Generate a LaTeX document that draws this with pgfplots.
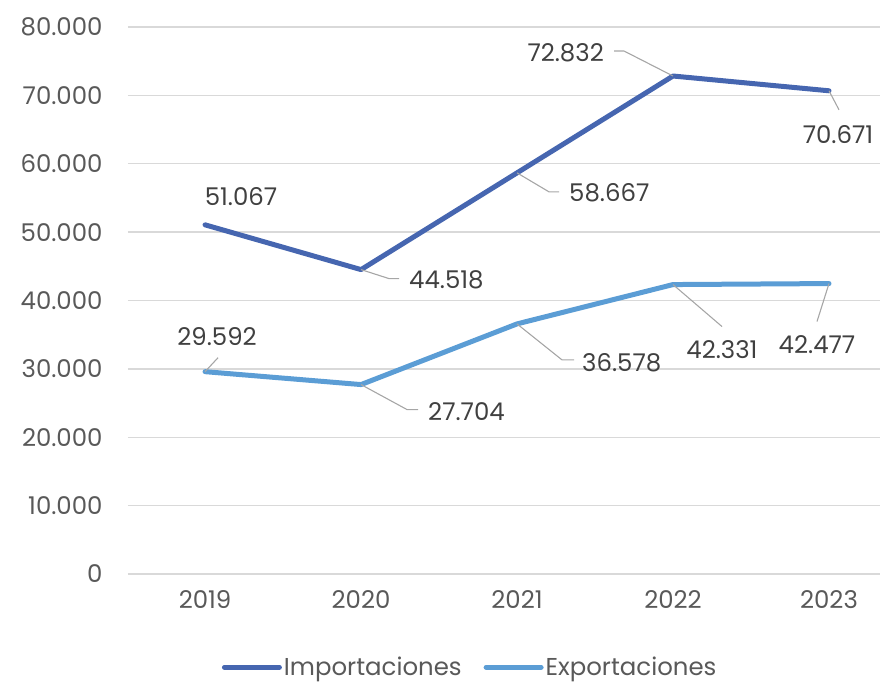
\documentclass[border=0pt]{standalone}
\usepackage{fontspec}
\setmainfont{Poppins}
\usepackage{pgfplots}
\pgfplotsset{compat=1.18}
\definecolor{impc}{RGB}{70,102,176}
\definecolor{expc}{RGB}{91,157,213}
\definecolor{gridc}{RGB}{217,217,217}
\definecolor{tickc}{RGB}{89,89,89}
\definecolor{labc}{RGB}{64,64,64}
\definecolor{leadc}{RGB}{166,166,166}
\begin{document}
\begin{tikzpicture}
\useasboundingbox (-128bp,-109bp) rectangle (756bp,574bp);
\begin{axis}[
  scale only axis,
  width=752bp, height=547bp,
  xmin=-0.494, xmax=4.327,
  ymin=0, ymax=80000,
  xtick={0,1,2,3,4},
  xticklabels={2019,2020,2021,2022,2023},
  ytick={0,10000,...,80000},
  axis line style={draw=none},
  major tick length=0pt,
  ymajorgrids,
  grid style={gridc, line width=1.3bp},
  font=\fontsize{24.5}{28}\selectfont,
  tick label style={text=tickc},
  y tick label style={anchor=east, xshift=-22bp},
  x tick label style={anchor=center, yshift=-26bp},
  /pgf/number format/.cd, 1000 sep={.}, assume math mode=true,
  /pgfplots/.cd,
  scaled y ticks=false,
  legend columns=2,
  legend style={draw=none, fill=none, at={(0.455,-0.1705)}, anchor=center,
    font=\fontsize{24.5}{28}\selectfont, text=tickc,
    /tikz/every even column/.append style={column sep=20bp},
    nodes={inner sep=2bp}},
  legend image code/.code={\draw[#1, line width=5bp, line cap=round] (0bp,0bp) -- (55bp,0bp);},
]
\addplot[impc, line width=5bp, line cap=round, line join=round] coordinates {
  (0,51067) (1,44518) (2,58667) (3,72832) (4,70671)};
\addlegendentry{Importaciones}
\addplot[expc, line width=5bp, line cap=round, line join=round] coordinates {
  (0,29592) (1,27704) (2,36578) (3,42331) (4,42477)};
\addlegendentry{Exportaciones}

\begin{scope}[leadc, line width=1.1bp]
\draw (axis cs:1,44518) -- ++(28bp,-9bp) -- ++(10bp,0bp);
\draw (axis cs:2,58667) -- ++(32bp,-19bp) -- ++(10bp,0bp);
\draw (axis cs:3,72832) -- ++(-49bp,25bp) -- ++(-10bp,0bp);
\draw (axis cs:4,70671) -- ++(10bp,-19bp);
\draw (axis cs:0,29592) -- ++(13bp,14bp);
\draw (axis cs:1,27704) -- ++(46bp,-25bp) -- ++(11bp,0bp);
\draw (axis cs:2,36578) -- ++(45bp,-36bp) -- ++(12bp,0bp);
\draw (axis cs:3,42331) -- ++(49bp,-42bp);
\draw (axis cs:4,42477) -- ++(-12bp,-38bp);
\end{scope}
\begin{scope}[every node/.style={text=labc, inner sep=0pt, font=\fontsize{24.5}{28}\selectfont}]
\node[anchor=center, xshift=36bp, yshift=28bp] at (axis cs:0,51067) {51.067};
\node[anchor=west, xshift=48bp, yshift=-10bp] at (axis cs:1,44518) {44.518};
\node[anchor=west, xshift=52bp, yshift=-20bp] at (axis cs:2,58667) {58.667};
\node[anchor=east, xshift=-69bp, yshift=23bp] at (axis cs:3,72832) {72.832};
\node[anchor=center, xshift=9bp, yshift=-44bp] at (axis cs:4,70671) {70.671};
\node[anchor=center, xshift=12bp, yshift=35bp] at (axis cs:0,29592) {29.592};
\node[anchor=west, xshift=67bp, yshift=-27bp] at (axis cs:1,27704) {27.704};
\node[anchor=west, xshift=65bp, yshift=-39bp] at (axis cs:2,36578) {36.578};
\node[anchor=center, xshift=49bp, yshift=-65bp] at (axis cs:3,42331) {42.331};
\node[anchor=center, xshift=-12bp, yshift=-61bp] at (axis cs:4,42477) {42.477};
\end{scope}
\end{axis}
\end{tikzpicture}
\end{document}
